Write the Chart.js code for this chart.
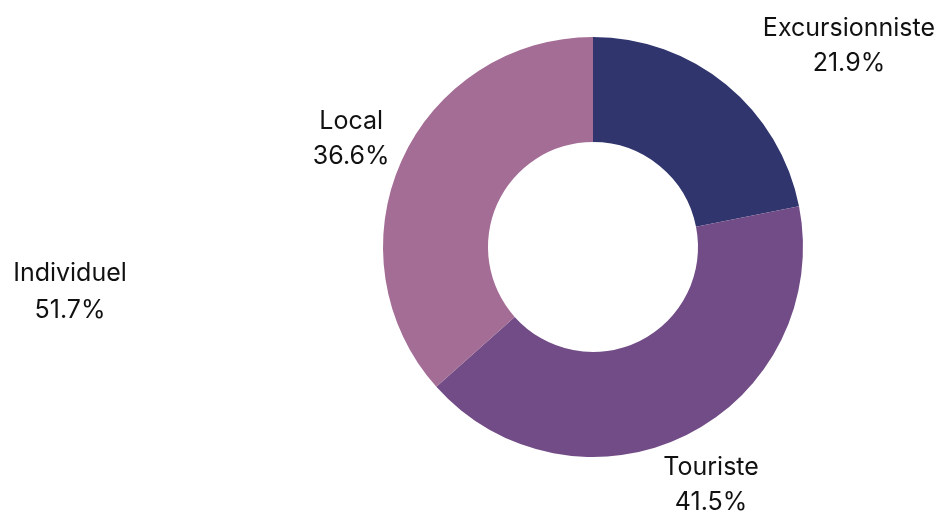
<!DOCTYPE html>
<html lang="fr">
<head>
    <meta charset="UTF-8">
    <title>Répartition des visiteurs</title>
    <script src="https://cdn.jsdelivr.net/npm/chart.js"></script>
    <style>
        body { margin: 0; background: #fff; }
        #wrap { width: 942px; height: 512px; position: relative; }
    </style>
</head>
<body>
    <div id="wrap"><canvas id="donut"></canvas></div>

    <script>
        // data
        var categories = ["Excursionniste", "Touriste", "Local"];
        var shares = [21.9, 41.5, 36.6];
        var sliceColors = ["#30356d", "#724c86", "#a46d96"];
        // lone label shown on the left of the figure
        var extraLabel = ["Individuel", "51.7%"];

        var FONT = "Inter, 'Noto Sans', sans-serif";

        // draws "name / pct" labels outside each slice
        var outerLabels = {
            id: "outerLabels",
            afterDatasetsDraw: function(chart) {
                var ctx = chart.ctx;
                var meta = chart.getDatasetMeta(0);
                ctx.save();
                ctx.font = "25px " + FONT;
                ctx.fillStyle = "#111";
                ctx.textAlign = "center";
                ctx.textBaseline = "middle";
                meta.data.forEach(function(arc, i) {
                    var mid = (arc.startAngle + arc.endAngle) / 2;
                    var r = arc.outerRadius + 55;
                    var x = arc.x + Math.cos(mid) * r;
                    var y = arc.y + Math.sin(mid) * r;
                    var w = ctx.measureText(categories[i]).width;
                    // labels hitting the top edge slide out to the side
                    if (y < 45) {
                        y = 45;
                        if (x > arc.x) x = chart.width - 7 - w / 2;
                    }
                    ctx.fillText(categories[i], x, y - 17);
                    ctx.fillText(shares[i].toFixed(1) + "%", x, y + 18);
                });
                ctx.fillText(extraLabel[0], 70, 273);
                ctx.fillText(extraLabel[1], 70, 310);
                ctx.restore();
            }
        };

        new Chart(document.getElementById("donut"), {
            type: "doughnut",
            data: {
                labels: categories,
                datasets: [{
                    data: shares,
                    backgroundColor: sliceColors,
                    borderWidth: 0
                }]
            },
            options: {
                responsive: true,
                maintainAspectRatio: false,
                animation: false,
                cutout: "50%",
                layout: { padding: { left: 383, right: 139, top: 37, bottom: 55 } },
                plugins: {
                    legend: { display: false },
                    tooltip: { enabled: false }
                }
            },
            plugins: [outerLabels]
        });
    </script>
</body>
</html>
